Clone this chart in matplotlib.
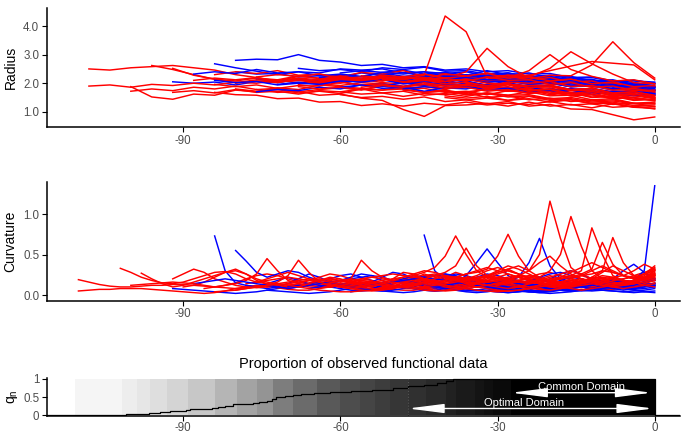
import matplotlib
matplotlib.use('Agg')
import matplotlib.pyplot as plt
import numpy as np

plt.rcParams['font.family'] = ['Liberation Sans', 'DejaVu Sans']

# radius curves, hundredths, on a 4-day grid ending at day 0
rad_grid = np.arange(-112, 1, 4)
rad_red = [
    [250,246,254,258,262,254,246,230,220,208,214,204,208,214,202,198,204,190,194,182,186,174,178,166,170,158,160,150],
    [190,194,186,196,192,200,194,204,200,210,202,198,192,202,198,190,194,184,188,178,182,170,172,162,160,150,148,140],
    [188,152,144,162,158,176,170,184,178,194,188,182,176,180,168,172,160,164,152,156,144,146,134,138,128,130],
    [262,248,230,214,208,218,212,226,216,222,206,216,208,212,200,206,194,200,188,190,178,182,170,176,168],
    [172,180,174,186,180,190,178,182,170,178,184,176,190,180,182,168,172,160,174,166,170,156,160,146,150,140],
    [252,228,214,202,212,208,224,218,230,214,220,212,228,234,218,222,204,210,196,202,188,194,180,186],
    [168,174,166,178,168,172,162,174,170,180,166,172,158,164,154,166,158,160,146,150,138,142,130,134],
    [210,218,212,220,204,210,200,214,208,226,214,220,204,216,210,214,198,204,190,194,180,184,174],
    [196,188,194,182,192,190,204,194,198,182,188,178,194,188,196,180,184,168,172,156,160,148],
    [230,240,234,244,228,232,222,238,232,244,224,228,218,236,222,226,210,214,198,202,186,190],
    [180,172,178,166,172,164,180,176,188,170,176,164,180,172,176,160,166,150,154,140,144],
    [200,208,202,216,206,212,204,220,214,228,435,380,222,228,212,220,204,208,188,190,176],
    [178,168,172,158,162,148,140,108,84,122,124,130,120,134,120,126,114,128,116,112],
    [210,218,212,226,212,216,202,216,218,240,322,258,218,206,212,196,202,184,188],
    [204,212,206,220,210,214,200,210,206,220,208,220,214,228,226,264,345,272,218],
    [196,204,200,212,208,222,214,220,208,222,218,244,300,248,224,208,212,198],
    [212,220,214,228,222,232,218,224,210,222,222,252,310,268,232,202,198],
    [208,216,210,224,214,220,206,218,214,228,228,244,260,276,270,264,212],
    [170,162,166,154,164,160,168,150,156,142,148,136,142,126,130,118],
    [160,150,154,144,152,136,142,128,136,120,126,110,108,90,72,82],
    [226,218,224,210,216,208,222,210,212,196,202,186,190,174,176],
    [186,194,188,202,192,196,182,188,172,180,164,172,156,162,150],
    [214,206,212,198,204,190,204,200,206,188,192,176,182,170],
    [176,168,174,160,166,158,170,156,158,142,146,130,128],
    [204,212,206,214,200,198,186,188,174,176,160,164,152],
    [198,190,196,182,196,192,194,178,182,164,170,158],
    [150,142,148,140,154,140,142,128,130,116,118],
    [184,192,186,194,176,178,162,166,150,156,146],
    [168,160,158,146,148,134,136,122,128,120,130,124,134,124,130,126,136,124,128,116,120,110],
    [222,230,224,232,216,222,208,220,216,232,226,234,218,222,208,214,198,204,188,192],
    [170,178,172,182,164,168,152,156,142,144],
    [200,192,198,184,190,176,182,166,170,156],
    [188,180,186,178,192,186,196,182,186,172,178,164,170,156,160,146,150,138],
    [156,148,154,140,146,134,142,130,134,122,124],
]
rad_blue = [
    [205,200,204,194,206,202,214,208,222,210,214,204,216,212,224,210,212,200,202,188,190,176,178,166],
    [268,254,242,230,240,236,250,246,250,236,240,234,240,226,230,218,222,210,214,198,202,190],
    [280,284,282,300,280,274,262,266,254,258,246,250,240,244,232,234,220,222,208,210,198],
    [240,232,234,222,226,220,236,228,238,224,228,220,234,222,226,212,218,204,208,196,198],
    [214,206,212,204,218,214,230,218,222,208,214,202,214,202,206,190,194,180,184,176],
    [196,204,198,206,192,198,188,204,196,208,192,198,184,190,176,182,168,172,164],
    [252,244,248,240,254,248,256,242,244,232,236,224,228,216,220,206,210,200],
    [220,228,222,236,224,230,216,228,222,232,214,218,202,206,190,192,182],
    [186,194,188,202,192,196,184,190,178,186,174,182,168,172,160,164],
    [236,244,238,246,232,238,228,244,230,236,220,224,208,212,196,200],
    [206,214,208,222,210,216,206,222,210,216,200,206,194,196,186],
    [228,220,226,216,230,226,236,220,224,206,210,194,198,186],
    [200,208,202,216,204,208,196,200,188,192,180,184,176],
    [180,188,182,190,176,182,170,180,166,174,162,170,160],
    [216,224,218,226,210,216,200,210,196,204,208,204],
    [192,200,194,208,196,200,188,192,180,182,172],
    [232,240,234,248,236,240,226,232,224,238,232,240,224,228,214,220,206,212,198,202,190,194,186],
    [210,202,206,194,200,196,208,204,212,198,202,190,198,190,202,188,192,178,180,166,168,158],
    [170,178,174,186,180,194,182,186,172,184,180,194,182,186,172,176,162,168,156,160],
    [212,220,212,214,202,206,194,198,186,190,180],
]

# curvature curves, hundredths, on a 2-day grid ending at day 0
curv_grid = np.arange(-110, 1, 2)
curv_red = [
    [19,16,13,11,10,10,11,12,12,13,13,12,11,10,12,15,20,24,26,24,20,16,14,12,12,14,16,18,16,14,12,10,9,10,12,14,16,15,13,12,14,18,22,18,14,12,11,12,14,16,18,20,18,16,20,24],
    [5,6,7,7,8,8,8,7,6,5,4,3,2,3,5,8,10,12,11,9,7,6,6,8,10,12,14,12,10,8,7,6,6,8,10,12,10,8,6,5,6,8,10,9,8,7,8,10,12,10,8,7,8,10,12,15],
    [33,28,22,18,15,14,16,20,24,28,29,26,20,16,14,12,10,12,15,18,20,18,15,12,10,9,10,12,16,20,24,22,18,14,12,12,14,16,15,13,12,14,16,18,16,14,12,12,14,18,22,26],
    [27,20,14,10,12,16,20,24,28,30,26,20,16,14,12,14,18,22,26,24,20,16,12,10,10,12,14,16,18,22,28,24,18,14,12,12,14,16,20,24,20,16,14,14,16,18,20,22,20,18],
    [20,26,32,28,20,16,12,10,9,10,12,14,12,10,9,10,12,16,20,18,15,12,10,9,8,9,10,12,14,12,10,8,8,10,14,18,16,12,10,9,10,12,14,12,10,12,15],
    [10,12,16,22,28,32,26,18,14,12,10,12,14,18,20,18,16,14,12,12,14,16,20,26,22,18,14,12,10,10,12,14,16,14,12,10,10,12,16,22,20,16,14,16,20,24],
    [8,10,12,14,18,26,45,30,18,14,12,10,10,12,14,16,14,12,10,9,8,9,10,12,14,16,18,16,14,12,10,9,10,12,14,12,10,9,10,12,14,16,18,20],
    [6,8,10,12,16,24,43,28,16,12,10,8,7,8,10,12,14,16,18,16,14,12,10,10,12,14,16,18,20,18,16,14,12,12,14,16,18,16,14,16,20],
    [14,16,18,20,22,20,18,16,14,12,10,12,14,16,18,20,22,24,26,24,20,16,14,12,14,16,18,22,26,28,24,20,16,14,16,18,20,24,28,32],
    [10,12,14,16,18,20,18,16,20,43,30,22,18,16,14,12,10,9,10,12,14,16,18,20,22,20,18,16,14,12,12,14,16,18,16,14,16,20],
    [8,10,12,14,12,10,12,14,16,18,20,22,24,28,34,48,73,50,30,22,18,16,14,12,10,10,12,14,16,18,16,14,12,14,16,18],
    [12,14,16,14,12,10,12,14,16,18,20,18,16,18,22,26,28,32,48,75,48,30,22,18,16,14,14,16,18,20,18,16,20,26],
    [14,16,18,20,18,16,14,16,18,20,22,24,22,20,18,20,24,28,32,36,30,50,116,70,34,24,20,18,16,14,16,20,24],
    [10,12,14,16,14,12,10,12,14,16,18,20,22,20,18,16,18,20,22,24,22,30,50,97,60,30,20,16,14,12,14,18],
    [16,18,20,22,20,18,16,18,20,24,28,36,58,36,24,20,18,16,16,18,20,22,24,30,83,50,24,18,16,20,26],
    [8,10,12,14,16,14,12,10,12,14,16,18,20,22,20,18,16,14,16,18,20,22,24,26,30,71,40,24,20,24],
    [20,22,24,26,24,22,20,18,16,18,20,24,30,34,30,26,22,20,18,20,22,26,32,65,38,24,20,18,22],
    [6,8,10,12,10,8,6,5,6,8,10,12,14,12,10,8,7,6,8,10,12,14,12,10,8,10,12,14],
    [14,12,10,8,6,5,6,8,10,14,18,22,26,22,18,14,12,10,12,16,20,24,22,18,14,16,20],
    [18,22,26,30,28,24,20,18,20,24,30,36,32,26,20,18,22,28,34,40,34,28,24,22,26,30],
    [10,12,16,20,24,22,18,14,12,10,8,10,14,18,22,26,30,26,20,16,14,12,14,20,28],
    [24,20,16,12,10,12,16,22,28,32,26,20,16,14,16,20,24,30,36,30,24,20,26,34],
    [12,14,16,18,20,22,24,22,20,18,16,14,12,14,16,18,20,22,20,18,16,20,30],
    [20,18,16,14,12,14,18,24,30,40,48,36,26,20,16,14,12,14,18,24,32],
    [12,13,14,15,16,15,14,12,10,9,8,9,10,12,14,16,18,20,18,16,14,12,10,8,7,8,10,12,14,16,18,20,22,20,18,16,14,12,10,12,14,16,18,20,18,16,14,16,18,20,22],
    [4,5,6,8,10,12,14,12,10,8,6,5,4,4,5,6,8,10,12,14,16,14,12,10,8,6,5,4,5,6,8,10,12,10,8,6,8,10,12,14,16,12,10],
    [16,20,24,28,24,20,16,12,10,8,6,5,6,8,12,16,20,24,22,18,14,10,8,6,5,6,8,12,16,20,24,20,16,12,10,12,16,22,30],
    [10,14,18,22,20,16,12,10,14,20,28,26,20,14,10,8,10,14,20,26,30,26,20,14,10,8,10,14,20,28,36,30,24,22,26],
    [14,16,18,20,22,24,22,20,18,16,14,16,18,20,22,24,30,38,32],
    [22,26,30,34,30,26,22,18,14,12,10,12,16,22,30,28,24,20,26,36],
]
curv_blue = [
    [8,7,6,5,4,3,2,3,4,6,8,10,12,14,16,15,12,10,8,6,5,4,3,4,6,8,10,9,8,6,5,4,3,4,5,6,8,10,12,10,8,6,5,4,5,6,8],
    [73,30,15,12,10,14,18,22,18,14,12,10,8,6,5,6,8,10,12,14,12,10,8,6,4,3,4,6,8,10,12,14,12,10,8,6,5,6,8,10,12,14,10],
    [55,42,28,22,26,30,28,22,18,20,24,26,22,18,14,12,10,8,6,5,6,8,10,12,10,8,6,5,4,3,4,6,8,10,12,10,8,6,8,10,12],
    [12,10,8,10,14,20,26,22,16,12,10,8,6,5,6,8,10,14,18,22,26,24,20,16,12,10,8,6,5,6,8,10,12,14,12,10,8,7,8,10],
    [6,5,4,3,2,3,4,6,8,10,12,14,16,18,20,22,24,26,24,20,16,12,10,8,6,4,3,2,3,4,6,8,10,12,14,16,14,12],
    [74,30,18,14,12,10,12,16,20,18,14,10,8,6,5,6,8,10,12,10,8,10,14],
    [10,12,14,16,14,12,10,12,16,22,28,26,20,16,14,12,16,24,40,57,40,24,16,12,10,8,6,5,6,8,10,12,14,16,14,12],
    [8,10,14,18,22,26,24,18,12,10,8,6,5,6,8,10,12,14,16,18,22,40,70,36,20,14,10,8,6,5,4,3,4,5],
    [16,18,20,22,24,22,18,16,14,12,10,12,14,18,22,26,24,20,16,14,12,10,8,6,5,6,8,10,12,14,16,18],
    [4,6,8,12,16,20,24,22,18,14,10,8,6,5,4,3,4,6,10,14,18,22,20,16,12,10,8,6,4,3],
    [12,14,16,18,16,14,12,10,8,6,5,6,8,10,12,14,12,10,8,7,6,8,12,20,30,38,28,18],
    [10,12,14,12,10,8,6,5,6,8,10,12,14,12,10,8,6,5,6,8,10,12,14,18,30,135],
    [20,22,24,26,22,18,14,12,10,12,14,18,22,26,28,24,20,16,12,10,8,10,12,14],
    [6,8,10,12,14,12,10,8,6,5,4,5,6,8,10,12,14,16,18,16,14,12],
    [18,16,14,12,10,8,6,8,10,14,20,26,30,26,20,16,12,10,12,16,20],
    [14,16,18,20,18,16,14,12,10,8,10,12,14,16,14,12,10,12,14,16,18,20,22,20,18,16,14,12,10,8,6,5,4,5,6,8,10,12,14,12,10,8,10,12,14],
]

# proportion of observed curves (step function) and background tiles
q_x = [-116, -110.6, -104, -101, -98.8, -96.5, -94.5, -92.5, -90.5, -89.5, -88.7, -84.5, -83.3, -82,
       -80.5, -78.5, -76.7, -75.5, -74, -73, -72.2, -70.5, -69, -67.5, -65, -62, -58, -54, -50, -47,
       -44, -41.5, -39.8, -38.6, -36, 0, 5]
q_y = [0, 0.01, 0.02, 0.03, 0.05, 0.07, 0.09, 0.11, 0.13, 0.15, 0.18, 0.19, 0.24, 0.27, 0.30, 0.32,
       0.33, 0.36, 0.40, 0.44, 0.49, 0.52, 0.56, 0.59, 0.61, 0.63, 0.67, 0.70, 0.74, 0.79, 0.83, 0.88,
       0.93, 0.98, 1.0, 0, 0]
tile_edges = [-110.6, -101.7, -98.8, -96.3, -93.1, -89, -84, -79.8, -76, -72.8, -69, -64.5, -60,
              -56.2, -53.4, -50.5, -47.1, -43.6, -39.8, -37.9, -34.4, -32.5, -30.9, -27.4, 0]
tile_gray = [0.96, 0.93, 0.90, 0.87, 0.83, 0.78, 0.71, 0.64, 0.58, 0.49, 0.42, 0.35, 0.30, 0.27,
             0.24, 0.21, 0.19, 0.16, 0.13, 0.10, 0.08, 0.06, 0.04, 0.0]

common_domain = (-27.4, -0.6)
optimal_domain = (-47.1, -0.3)

xlim = (-116, 4.8)
tick_col = '#4d4d4d'

fig = plt.figure(figsize=(6.82, 4.37), dpi=100)
ax1 = fig.add_axes([0.0689, 0.7094, 0.928, 0.2723])
ax2 = fig.add_axes([0.0689, 0.3119, 0.928, 0.2723])
ax3 = fig.add_axes([0.0689, 0.0480, 0.928, 0.0870])


def style(ax):
    for s in ['top', 'right']:
        ax.spines[s].set_visible(False)
    for s in ['left', 'bottom']:
        ax.spines[s].set_linewidth(1.1)
    ax.tick_params(axis='both', length=3.5, width=0.8, labelsize=8.3, labelcolor=tick_col, pad=2)
    ax.set_xlim(*xlim)
    ax.set_xticks([-90, -60, -30, 0])
    ax.set_xticklabels(['-90', '-60', '-30', '0'])


def draw(ax, grid, reds, blues, scale):
    for i in range(max(len(reds), len(blues))):
        if i < len(blues):
            v = np.array(blues[i]) / scale
            ax.plot(grid[-len(v):], v, color='#0000FF', lw=1.05, solid_joinstyle='round')
        if i < len(reds):
            v = np.array(reds[i]) / scale
            ax.plot(grid[-len(v):], v, color='#FF0000', lw=1.05, solid_joinstyle='round')


draw(ax1, rad_grid, rad_red, rad_blue, 100.0)
style(ax1)
ax1.set_ylim(0.47, 4.63)
ax1.set_yticks([1, 2, 3, 4])
ax1.set_yticklabels(['1.0', '2.0', '3.0', '4.0'])
ax1.set_ylabel('Radius', fontsize=10)

draw(ax2, curv_grid, curv_red, curv_blue, 100.0)
style(ax2)
ax2.set_ylim(-0.07, 1.40)
ax2.set_yticks([0, 0.5, 1.0])
ax2.set_yticklabels(['0.0', '0.5', '1.0'])
ax2.set_ylabel('Curvature', fontsize=10)

# bottom panel
lefts = np.array(tile_edges[:-1])
widths = np.diff(tile_edges)
ax3.bar(lefts, 1.0, width=widths, align='edge', color=[str(g) for g in tile_gray], linewidth=0)
ax3.plot(q_x, q_y, drawstyle='steps-post', color='black', lw=0.9)
ax3.axvline(optimal_domain[0], ymin=0.015, ymax=0.985, color='#555555', ls=':', lw=0.8)
style(ax3)
ax3.tick_params(axis='x', pad=1)
ax3.set_ylim(-0.015, 1.02)
ax3.set_yticks([0, 0.5, 1])
ax3.set_yticklabels(['0', '0.5', '1'])
ax3.set_ylabel(r'q$_\mathregular{n}$', fontsize=10, labelpad=2)
ax3.set_title('Proportion of observed functional data', fontsize=10.5, pad=7)

arrow = dict(arrowstyle='<|-|>,head_length=2.2,head_width=0.28', color='white', lw=1.0,
             shrinkA=0, shrinkB=0, mutation_scale=10)
ax3.annotate('', xy=(common_domain[1], 0.62), xytext=(common_domain[0], 0.62), arrowprops=arrow)
ax3.annotate('', xy=(optimal_domain[1], 0.19), xytext=(optimal_domain[0], 0.19), arrowprops=arrow)
ax3.text(sum(common_domain) / 2, 0.63, 'Common Domain', color='white', fontsize=8,
         ha='center', va='bottom')
ax3.text(-24.9, 0.2, 'Optimal Domain', color='white', fontsize=8, ha='center', va='bottom')

fig.savefig('out.png', dpi=100)
